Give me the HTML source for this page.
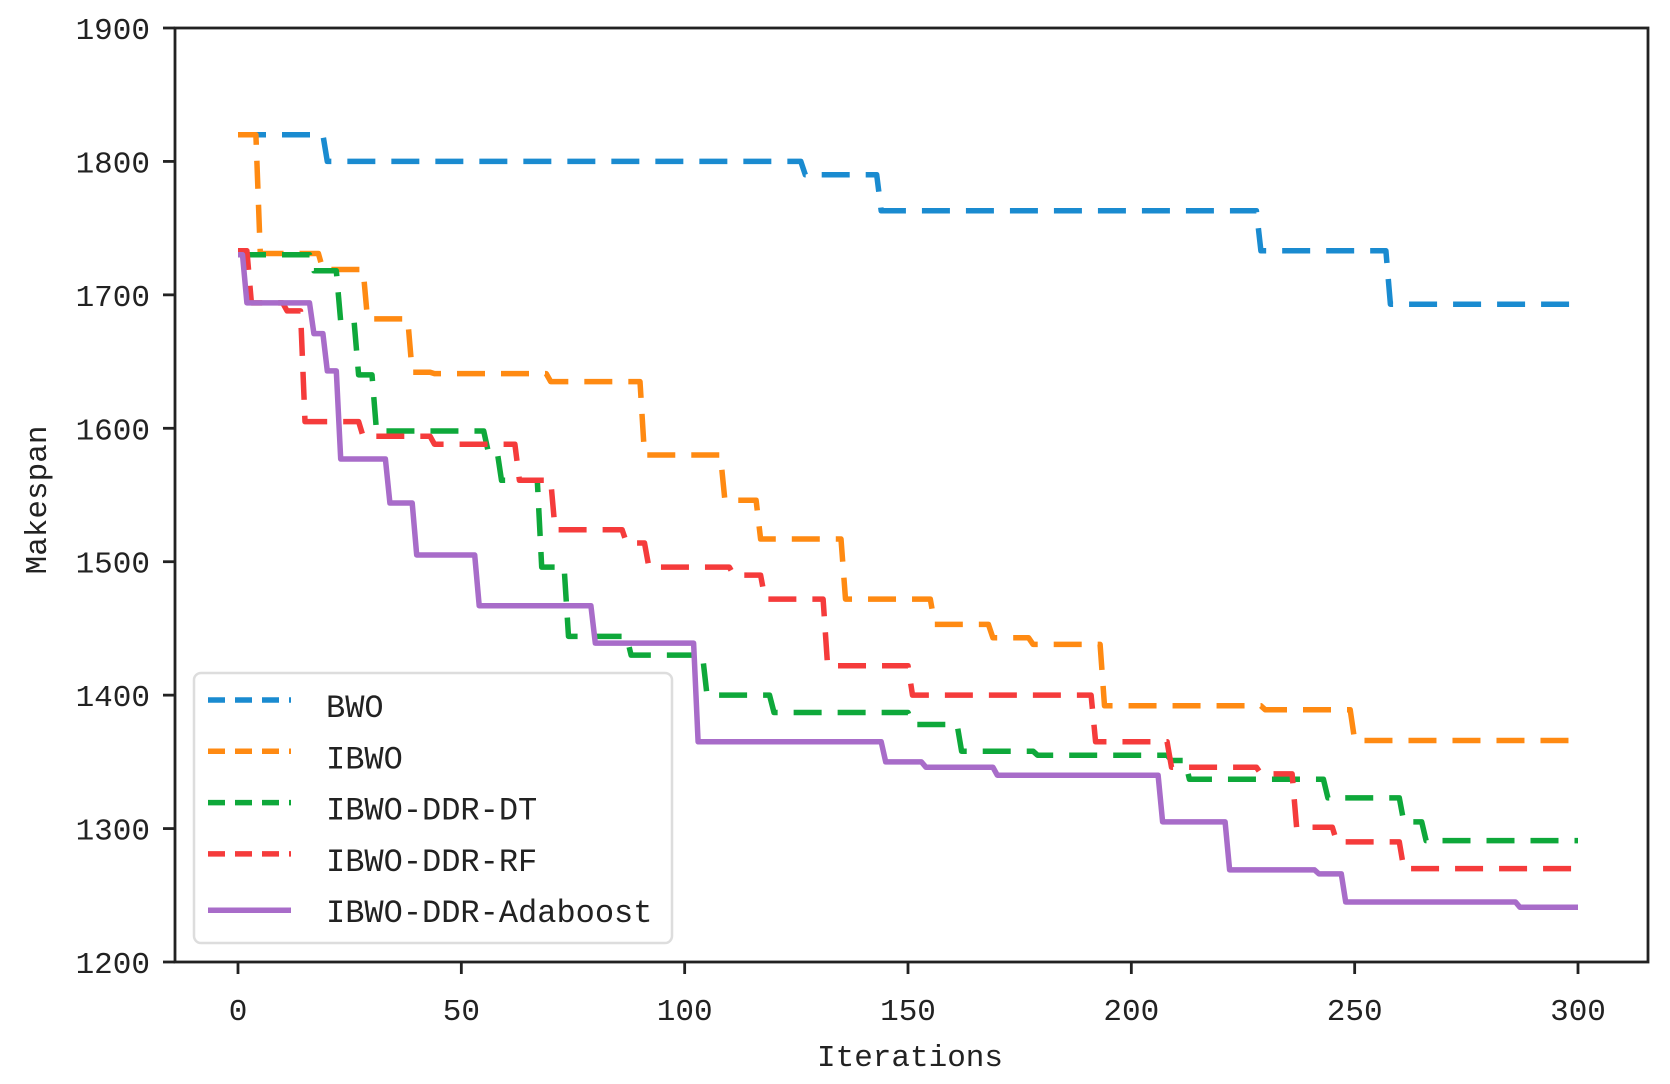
<!DOCTYPE html>
<html><head><meta charset="utf-8"><style>
html,body{margin:0;padding:0;background:#fff;}
svg{display:block;}
text{font-family:"Liberation Mono","Noto Sans CJK SC",monospace;fill:#222;}
</style></head><body>
<svg id="chart" width="1670" height="1084" viewBox="0 0 1670 1084">
<g id="plot"></g>
</svg>
<script>
const xTicks=[0,50,100,150,200,250,300];
const yTicks=[1200,1300,1400,1500,1600,1700,1800,1900];
const seriesNames=["BWO","IBWO","IBWO-DDR-DT","IBWO-DDR-RF","IBWO-DDR-Adaboost"];
const bwoIter=[0,20,127,144,229,258];
const bwoVal=[1820,1800,1790,1763,1733,1693];
const ibwoIter=[0,5,19,29,39,44,70,91,109,117,136,156,169,178,194,230,250];
const ibwoVal=[1820,1731,1719,1682,1642,1641,1635,1580,1546,1517,1472,1453,1443,1438,1392,1389,1366];
const dtIter=[0,17,23,27,31,56,59,68,74,88,105,120,151,162,179,209,213,244,261,266];
const dtVal=[1730,1718,1680,1640,1598,1583,1561,1496,1444,1430,1400,1387,1378,1358,1355,1351,1337,1323,1305,1291];
const rfIter=[0,3,11,15,28,44,63,71,87,92,111,118,132,151,192,209,229,237,246,261];
const rfVal=[1733,1694,1688,1605,1594,1588,1561,1524,1514,1496,1490,1472,1422,1400,1365,1346,1341,1301,1290,1270];
const adaIter=[0,2,17,20,23,34,40,54,80,103,145,154,170,207,222,242,248,287];
const adaVal=[1730,1694,1671,1643,1577,1544,1505,1467,1439,1365,1350,1346,1340,1305,1269,1266,1245,1241];

const X0=238,X1=1578,Y0=962,Y1=28,L=175,R=1648;
const xs=v=>X0+(v-0)*(X1-X0)/300;
const ys=v=>Y0-(v-1200)*(Y0-Y1)/700;
const NS="http://www.w3.org/2000/svg";
const g=document.getElementById('plot');
function mk(t,a,p){const e=document.createElementNS(NS,t);for(const k in a)e.setAttribute(k,a[k]);(p||g).appendChild(e);return e;}

const frame=mk('rect',{x:L,y:Y1,width:R-L,height:Y0-Y1,fill:'none',stroke:'#222','stroke-width':2.8});



xTicks.forEach(t=>{
  const tk=mk('line',{x1:xs(t),x2:xs(t),y1:Y0,y2:Y0+12,stroke:'#222','stroke-width':2.8});
  
  
  const tx=mk('text',{x:xs(t),y:1020,'text-anchor':'middle','font-size':31});
  tx.textContent=t;
  
  
});
yTicks.forEach(t=>{
  const tk=mk('line',{x1:L-12,x2:L,y1:ys(t),y2:ys(t),stroke:'#222','stroke-width':2.8});
  
  
  const tx=mk('text',{x:150,y:ys(t)+11,'text-anchor':'end','font-size':31});
  tx.textContent=t;
  
  
});
const xl=mk('text',{x:910,y:1066,'text-anchor':'middle','font-size':31});
xl.textContent='Iterations';


const yl=mk('text',{x:0,y:0,'text-anchor':'middle','font-size':31,transform:'translate(46,500) rotate(-90)'});
yl.textContent='Makespan';



const colors=['#1a8bd0','#ff8a12','#0ea83a','#f53b3b','#a86cc9'];
const dashes=['28,16','28,16','28,16','28,16',null];
const iters=[bwoIter,ibwoIter,dtIter,rfIter,adaIter];
const vals=[bwoVal,ibwoVal,dtVal,rfVal,adaVal];
const keys=['bwo','ibwo','ibwo-ddr-dt','ibwo-ddr-rf','ibwo-ddr-adaboost'];

for(let s=0;s<5;s++){
  const pts=[];
  for(let i=0;i<=300;i++){
    let v=vals[s][0];
    for(let k=0;k<iters[s].length;k++){if(iters[s][k]<=i)v=vals[s][k];}
    pts.push(xs(i).toFixed(1)+','+ys(v).toFixed(1));
  }
  const a={points:pts.join(' '),fill:'none',stroke:colors[s],'stroke-width':5.5,'stroke-linejoin':'round'};
  if(dashes[s])a['stroke-dasharray']=dashes[s];
  const pl=mk('polyline',a);
  
  
}

const lg=mk('rect',{x:194,y:673,width:478,height:270,rx:7,fill:'#fff','fill-opacity':0.85,stroke:'#ddd','stroke-width':2.5});


for(let s=0;s<5;s++){
  const y=700+s*51.3;
  const a={x1:208,x2:291,y1:y+(s==4?5:0),y2:y+(s==4?5:0),stroke:colors[s],'stroke-width':5.5};
  if(dashes[s])a['stroke-dasharray']='17,10';
  const ln=mk('line',a);
  
  
  const tx=mk('text',{x:326,y:y+17,'font-size':32});
  tx.textContent=seriesNames[s];
  
  
}
</script>
</body></html>
